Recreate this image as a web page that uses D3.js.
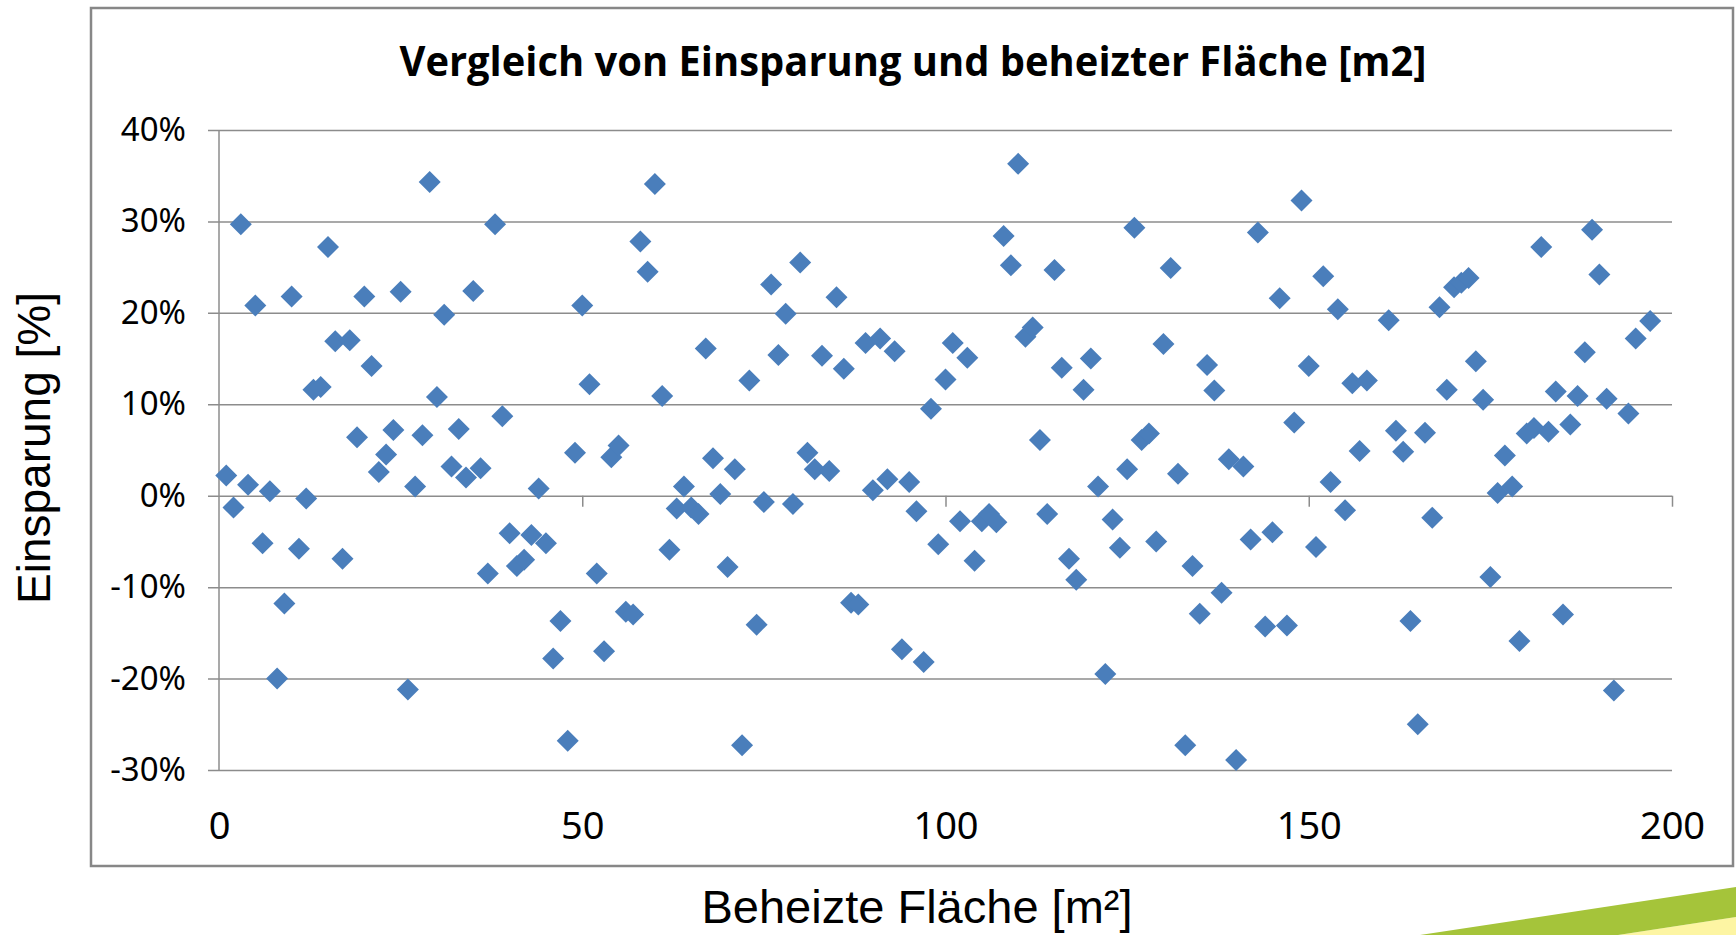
<!DOCTYPE html>
<html>
<head>
<meta charset="utf-8">
<script src="https://d3js.org/d3.v7.min.js"></script>
<style>
    body { margin: 0; background: #fff; }
    svg { display: block; }
    .grid line { stroke: #8c8c8c; stroke-width: 1.5; }
    .tick text { fill: #000; }
</style>
</head>
<body>
<script>
// Beheizte Fläche [m²] (x) and Einsparung [%] (y)
var flaeche = [
    1, 2, 3, 4, 5, 6, 7, 8, 9, 10, 11, 12, 13, 14, 15, 16, 17, 18, 19, 20,
    21, 22, 23, 24, 25, 26, 27, 28, 29, 30, 31, 32, 33, 34, 35, 36, 37, 38, 39, 40,
    41, 42, 43, 44, 45, 46, 47, 48, 49, 50, 51, 52, 53, 54, 55, 56, 57, 58, 59, 60,
    61, 62, 63, 64, 65, 66, 67, 68, 69, 70, 71, 72, 73, 74, 75, 76, 77, 78, 79, 80,
    81, 82, 83, 84, 85, 86, 87, 88, 89, 90, 91, 92, 93, 94, 95, 96, 97, 98, 99, 100,
    101, 102, 103, 104, 105, 106, 107, 108, 109, 110, 111, 112, 113, 114, 115, 116, 117, 118, 119, 120,
    121, 122, 123, 124, 125, 126, 127, 128, 129, 130, 131, 132, 133, 134, 135, 136, 137, 138, 139, 140,
    141, 142, 143, 144, 145, 146, 147, 148, 149, 150, 151, 152, 153, 154, 155, 156, 157, 158, 161, 162,
    163, 164, 165, 166, 167, 168, 169, 170, 171, 172, 173, 174, 175, 176, 177, 178, 179, 180, 181, 182,
    183, 184, 185, 186, 187, 188, 189, 190, 191, 192, 194, 195, 197
];
var einsparung = [
    2.2, -1.3, 29.7, 1.2, 20.8, -5.2, 0.5, -20.0, -11.8, 21.8, -5.8, -0.3, 11.6, 11.9, 27.2, 16.9, -6.9, 17.0, 6.4, 21.8,
    14.2, 2.6, 4.5, 7.2, 22.3, -21.2, 1.0, 6.6, 34.3, 10.8, 19.8, 3.2, 7.3, 2.0, 22.4, 3.0, -8.5, 29.7, 8.7, -4.1,
    -7.7, -7.0, -4.3, 0.8, -5.2, -17.8, -13.7, -26.8, 4.7, 20.8, 12.2, -8.5, -17.0, 4.2, 5.5, -12.7, -13.0, 27.8, 24.5, 34.1,
    10.9, -5.9, -1.4, 1.0, -1.3, -2.0, 16.1, 4.1, 0.2, -7.8, 2.9, -27.3, 12.6, -14.1, -0.7, 23.1, 15.4, 19.9, -0.9, 25.5,
    4.7, 2.9, 15.3, 2.7, 21.7, 13.9, -11.7, -11.9, 16.7, 0.6, 17.2, 1.8, 15.8, -16.8, 1.5, -1.7, -18.2, 9.5, -5.3, 12.7,
    16.7, -2.8, 15.1, -7.1, -2.8, -2.0, -2.9, 28.4, 25.2, 36.3, 17.4, 18.4, 6.1, -2.0, 24.7, 14.0, -6.9, -9.2, 11.6, 15.0,
    1.0, -19.5, -2.6, -5.7, 2.9, 29.3, 6.1, 6.8, -5.0, 16.6, 24.9, 2.4, -27.3, -7.7, -12.9, 14.3, 11.5, -10.6, 4.0, -28.9,
    3.2, -4.8, 28.8, -14.3, -4.0, 21.6, -14.2, 8.0, 32.3, 14.2, -5.6, 24.0, 1.5, 20.4, -1.6, 12.3, 4.9, 12.6, 19.2, 7.1,
    4.8, -13.7, -25.0, 6.9, -2.4, 20.6, 11.6, 22.8, 23.3, 23.8, 14.7, 10.5, -8.9, 0.3, 4.4, 1.0, -15.9, 6.8, 7.4, 27.2,
    7.0, 11.4, -13.0, 7.8, 10.9, 15.7, 29.1, 24.2, 10.6, -21.3, 9.0, 17.2, 19.1
];
var yTicks = [-30, -20, -10, 0, 10, 20, 30, 40];
var xTicks = [0, 50, 100, 150, 200];

var W = 1736, H = 935;
var plotL = 219, plotR = 1672, plotT = 130, plotB = 770;

var svg = d3.select("body").append("svg")
    .attr("width", W)
    .attr("height", H);

// frame of the chart
svg.append("rect")
    .attr("x", 91).attr("y", 8)
    .attr("width", 1642).attr("height", 858)
    .attr("fill", "#fff")
    .attr("stroke", "#878787")
    .attr("stroke-width", 2.5);

var x = d3.scaleLinear().domain([0, 200]).range([plotL, plotR]);
var y = d3.scaleLinear().domain([-30, 40]).range([plotB, plotT]);

// horizontal gridlines + outside ticks + % labels
var yAxis = svg.append("g")
    .attr("class", "grid")
    .attr("transform", "translate(" + plotR + ",0)")
    .call(d3.axisLeft(y)
        .tickValues(yTicks)
        .tickSize(plotR - plotL + 11)
        .tickPadding(22)
        .tickFormat(function(d) { return d + "%"; }));
yAxis.select(".domain").remove();
yAxis.selectAll("text")
    .style("font-family", "'Noto Sans', sans-serif")
    .style("font-size", "33px");

// vertical axis line
svg.append("line")
    .attr("x1", plotL).attr("x2", plotL)
    .attr("y1", plotT).attr("y2", plotB)
    .attr("stroke", "#8c8c8c")
    .attr("stroke-width", 1.5);

// x axis ticks at 0%
var xAxis = svg.append("g")
    .attr("class", "grid")
    .attr("transform", "translate(0," + y(0) + ")")
    .call(d3.axisBottom(x)
        .tickValues(xTicks.slice(1))
        .tickSize(11)
        .tickFormat(""));
xAxis.select(".domain").remove();

// x labels below the plot
var xLab = svg.append("g")
    .attr("transform", "translate(0," + plotB + ")")
    .call(d3.axisBottom(x)
        .tickValues(xTicks)
        .tickSize(0)
        .tickPadding(42));
xLab.select(".domain").remove();
xLab.selectAll("text")
    .style("font-family", "'Noto Sans', sans-serif")
    .style("font-size", "38px");

// diamonds
var pts = flaeche.map(function(f, i) { return { x: f, y: einsparung[i] }; });
svg.append("g")
    .selectAll("path")
    .data(pts)
    .enter().append("path")
    .attr("transform", function(d) { return "translate(" + x(d.x) + "," + y(d.y) + ")"; })
    .attr("d", "M0,-11L11,0L0,11L-11,0Z")
    .attr("fill", "#4a7ebb");

// title
svg.append("text")
    .attr("x", 913).attr("y", 76)
    .attr("text-anchor", "middle")
    .attr("textLength", 1027)
    .attr("lengthAdjust", "spacingAndGlyphs")
    .style("font-family", "'Open Sans', sans-serif")
    .style("font-weight", "bold")
    .style("font-size", "42px")
    .text("Vergleich von Einsparung und beheizter Fläche [m2]");

// axis titles
svg.append("text")
    .attr("transform", "translate(50,448) rotate(-90)")
    .attr("text-anchor", "middle")
    .style("font-family", "'Liberation Sans', Arial, sans-serif")
    .style("font-size", "46px")
    .text("Einsparung [%]");

svg.append("text")
    .attr("x", 917).attr("y", 923)
    .attr("text-anchor", "middle")
    .style("font-family", "'Liberation Sans', Arial, sans-serif")
    .style("font-size", "47px")
    .text("Beheizte Fläche [m²]");

// green swoosh, bottom right
svg.append("path")
    .attr("d", "M1618,935L1736,917L1736,935Z")
    .attr("fill", "#fdf5a3");
svg.append("path")
    .attr("d", "M1420,935L1736,887L1736,917L1618,935Z")
    .attr("fill", "#a5c43a");
</script>
</body>
</html>
